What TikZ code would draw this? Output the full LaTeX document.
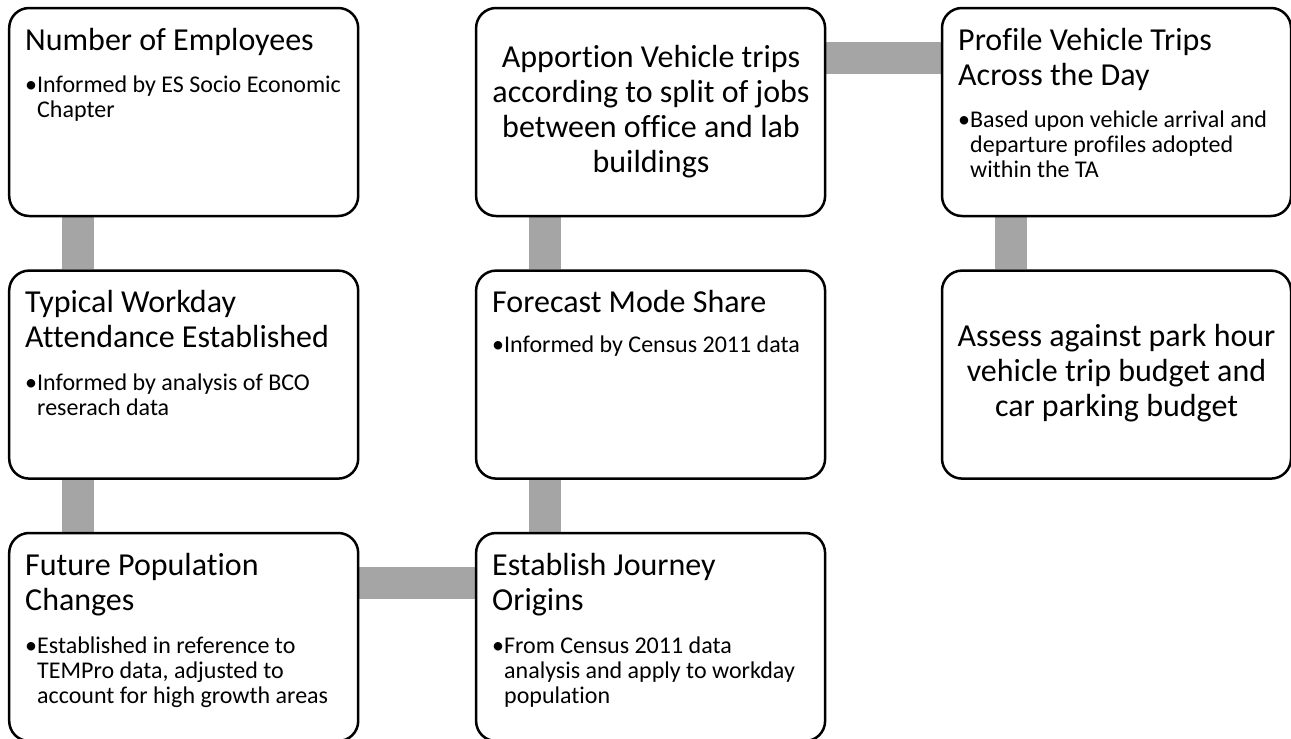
\documentclass[tikz,border=0pt]{standalone}
\usepackage{fontspec}
\setmainfont{Carlito}[Ligatures=NoCommon]
\usetikzlibrary{backgrounds}
\definecolor{bargray}{HTML}{A5A5A5}
\begin{document}
\begin{tikzpicture}[x=1pt,y=-1pt,
  stepbox/.style={draw=black, line width=2.5pt, rounded corners=20pt, minimum width=349pt, minimum height=208pt, inner sep=0pt, fill=white},
  bar/.style={draw=bargray, line width=32pt},
  ttl/.style={anchor=base west, align=left, inner sep=0pt, font=\fontsize{32}{35}\selectfont},
  ctr/.style={anchor=base, align=center, inner sep=0pt, font=\fontsize{32}{35}\selectfont},
  bul/.style={anchor=base west, align=left, inner sep=0pt, font=\fontsize{24}{25}\selectfont}]
\useasboundingbox (0,0) rectangle (1291,739);
\node[stepbox] (b1) at (183.7,112) {};
\node[stepbox] (b2) at (183.7,374.6) {};
\node[stepbox] (b3) at (183.7,637) {};
\node[stepbox] (b4) at (650.6,112) {};
\node[stepbox] (b5) at (650.6,374.6) {};
\node[stepbox] (b6) at (650.6,637) {};
\node[stepbox] (b7) at (1116.5,112) {};
\node[stepbox] (b8) at (1116.5,374.6) {};
\begin{scope}[on background layer]
\draw[bar] ([xshift=70pt]b1.south west) -- ([xshift=70pt]b2.north west);
\draw[bar] ([xshift=70pt]b2.south west) -- ([xshift=70pt]b3.north west);
\draw[bar] ([yshift=-51.5pt]b3.north east) -- ([yshift=-51.5pt]b6.north west);
\draw[bar] ([xshift=70pt]b6.north west) -- ([xshift=70pt]b5.south west);
\draw[bar] ([xshift=70pt]b5.north west) -- ([xshift=70pt]b4.south west);
\draw[bar] ([yshift=-51.5pt]b4.north east) -- ([yshift=-51.5pt]b7.north west);
\draw[bar] ([xshift=70pt]b7.south west) -- ([xshift=70pt]b8.north west);
\end{scope}
% anchors are the baselines of the last lines
\node[ttl] (t1) at (25,50) {Number of Employees};
\node[bul] (u1) at (37,117) {\llap{\makebox[12pt][l]{\textbullet}}Informed by ES Socio Economic\\Chapter};
\node[ttl] (t2) at (25,347) {Typical Workday\\Attendance Established};
\node[bul] (u2) at (37,415) {\llap{\makebox[12pt][l]{\textbullet}}Informed by analysis of BCO\\reserach data};
\node[ttl] (t3) at (25,610) {Future Population\\Changes};
\node[bul] (u3) at (37,703) {\llap{\makebox[12pt][l]{\textbullet}}Established in reference to\\TEMPro data, adjusted to\\account for high growth areas};
\node[ctr] (t4) at (651,172) {Apportion Vehicle trips\\according to split of jobs\\between office and lab\\buildings};
\node[ttl] (t5) at (492,312) {Forecast Mode Share};
\node[bul] (u5) at (504,352) {\llap{\makebox[12pt][l]{\textbullet}}Informed by Census 2011 data};
\node[ttl] (t6) at (492,610) {Establish Journey\\Origins};
\node[bul] (u6) at (504,703) {\llap{\makebox[12pt][l]{\textbullet}}From Census 2011 data\\analysis and apply to workday\\population};
\node[ttl] (t7) at (958,85) {Profile Vehicle Trips\\Across the Day};
\node[bul] (u7) at (970,177) {\llap{\makebox[12pt][l]{\textbullet}}Based upon vehicle arrival and\\departure profiles adopted\\within the TA};
\node[ctr] (t8) at (1116.5,416) {Assess against park hour\\vehicle trip budget and\\car parking budget};
\end{tikzpicture}
\end{document}
